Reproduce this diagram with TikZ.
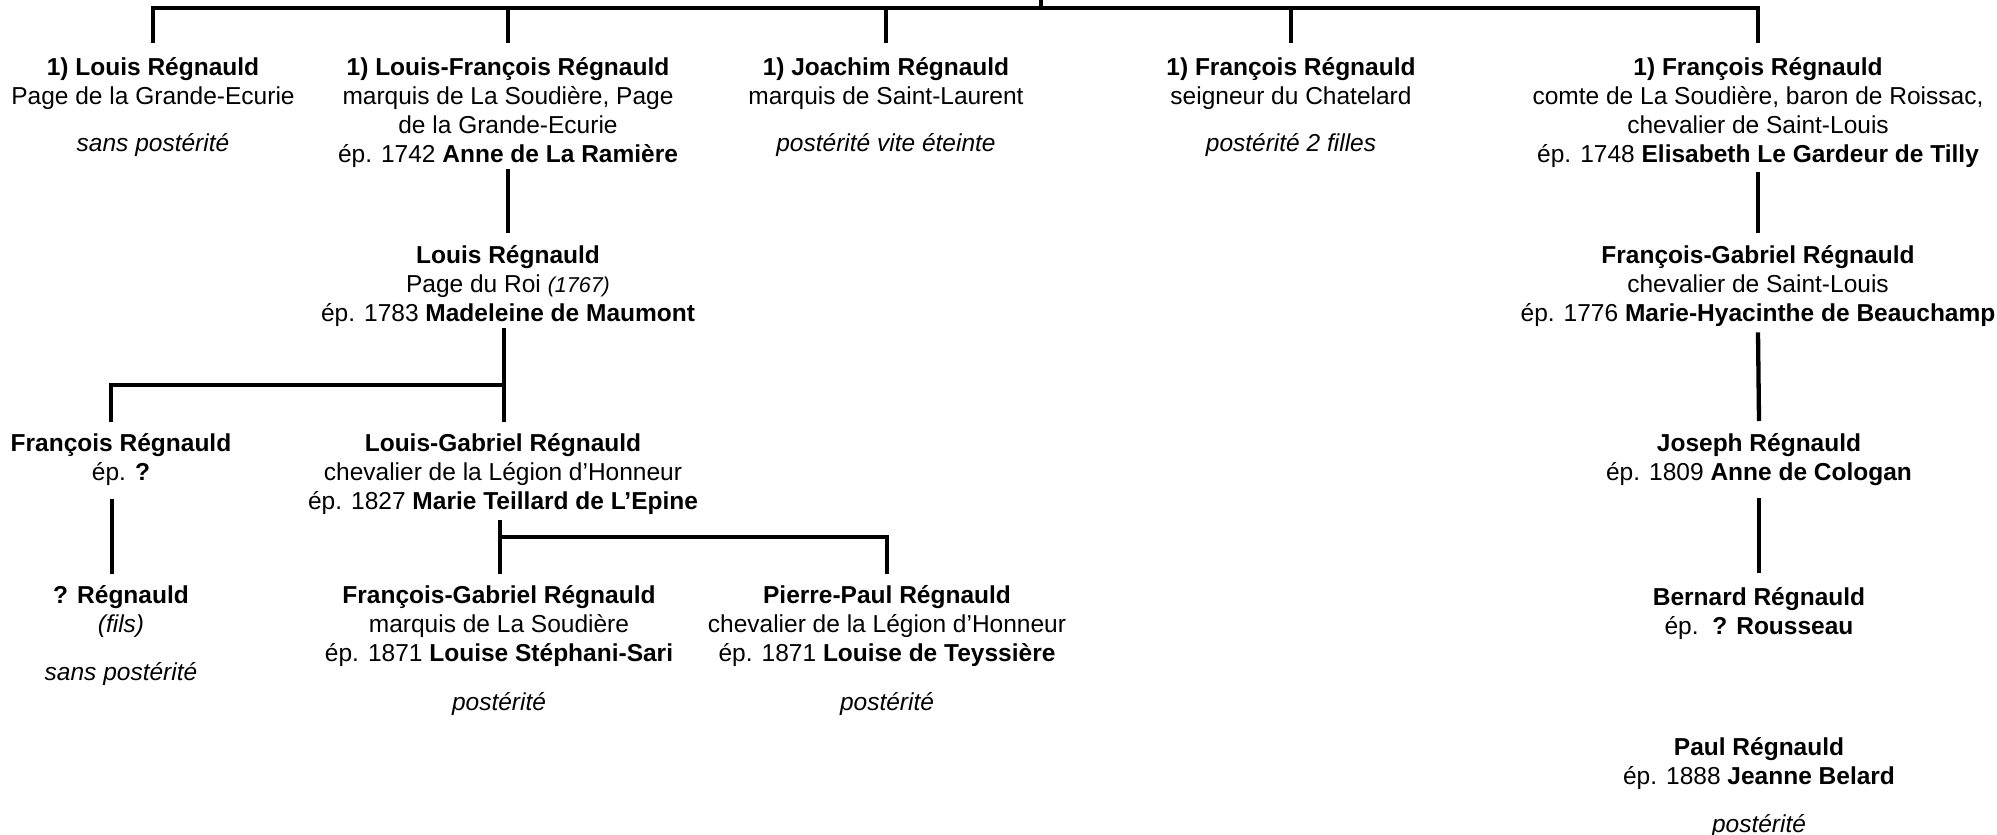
\documentclass[tikz,border=0pt]{standalone}
\usepackage{fontspec}
\setmainfont{Liberation Sans}
\usetikzlibrary{calc}
\newcommand{\tS}{\rule{0pt}{20pt}}
\newcommand{\bS}{\rule[-7pt]{0pt}{7pt}}
\newcommand{\sm}[1]{{\fontsize{21.5}{29}\selectfont\itshape #1}}
\begin{document}
\begin{tikzpicture}[x=1pt,y=-1pt,
  person/.style={anchor=north,inner sep=0pt,align=center,font=\fontsize{24.5}{29}\selectfont},
  conn/.style={line width=3.2pt,black},
  thick conn/.style={line width=4.3pt,black}]
\useasboundingbox[fill=white] (0,0) rectangle (1997,835);

% generation 1
\node[person] (n1) at (153,55) {\tS\textbf{1) Louis Régnauld}\\Page de la Grande-Ecurie\\[18pt]\textit{sans postérité}\bS};
\node[person] (n2) at (508,55) {\tS\textbf{1) Louis-François Régnauld}\\marquis de La Soudière, Page\\de la Grande-Ecurie\\ép. 1742 \textbf{Anne de La Ramière}\bS};
\node[person] (n3) at (886,55) {\tS\textbf{1) Joachim Régnauld}\\marquis de Saint-Laurent\\[18pt]\textit{postérité vite éteinte}\bS};
\node[person] (n4) at (1291,55) {\tS\textbf{1) François Régnauld}\\seigneur du Chatelard\\[18pt]\textit{postérité 2 filles}\bS};
\node[person] (n5) at (1758,55) {\tS\textbf{1) François Régnauld}\\comte de La Soudière, baron de Roissac,\\chevalier de Saint-Louis\\ép. 1748 \textbf{Elisabeth Le Gardeur de Tilly}\bS};

% generation 2
\node[person] (n6) at (508,243) {\tS\textbf{Louis Régnauld}\\Page du Roi \sm{(1767)}\\ép. 1783 \textbf{Madeleine de Maumont}\bS};
\node[person] (n7) at (1758,243) {\tS\textbf{François-Gabriel Régnauld}\\chevalier de Saint-Louis\\ép. 1776 \textbf{Marie-Hyacinthe de Beauchamp}\bS};

% generation 3
\node[person] (n8) at (121,431) {\tS\textbf{François Régnauld}\\ép. \textbf{?}\bS};
\node[person] (n9) at (503,431) {\tS\textbf{Louis-Gabriel Régnauld}\\chevalier de la Légion d’Honneur\\ép. 1827 \textbf{Marie Teillard de L’Epine}\bS};
\node[person] (n10) at (1759,431) {\tS\textbf{Joseph Régnauld}\\ép. 1809 \textbf{Anne de Cologan}\bS};

% generation 4
\node[person] (n11) at (121,583) {\tS\textbf{? Régnauld}\\\textit{(fils)}\\[19pt]\textit{sans postérité}\bS};
\node[person] (n12) at (499,583) {\tS\textbf{François-Gabriel Régnauld}\\marquis de La Soudière\\ép. 1871 \textbf{Louise Stéphani-Sari}\\[20pt]\textit{postérité}\bS};
\node[person] (n13) at (887,583) {\tS\textbf{Pierre-Paul Régnauld}\\chevalier de la Légion d’Honneur\\ép. 1871 \textbf{Louise de Teyssière}\\[20pt]\textit{postérité}\bS};
\node[person] (n14) at (1759,585) {\tS\textbf{Bernard Régnauld}\\ép.\ \ \textbf{? Rousseau}\bS};

% generation 5
\node[person] (n15) at (1759,735) {\tS\textbf{Paul Régnauld}\\ép. 1888 \textbf{Jeanne Belard}\\[19pt]\textit{postérité}\bS};

% top bar
\coordinate (root) at (1041,0);
\coordinate (barL) at (153,8);
\coordinate (barR) at (1758,8);
\draw[conn] (root) -- (root |- barL);
\draw[conn] ([yshift=12pt]n1.north) -- (barL) -- (barR) -- ([yshift=12pt]n5.north);
\foreach \n in {n2,n3,n4} \draw[conn] ([yshift=12pt]\n.north) -- (\n.north |- barL);

% left branch
\draw[conn] (n2.south) -- ([yshift=10pt]n6.north);
\coordinate (jB) at (504,385);
\coordinate (jBL) at (111,385);
\draw[conn] (n6.south -| jB) -- ([yshift=9pt]n9.north -| jB);
\draw[conn] (jB) -- (jBL) -- ([yshift=9pt]n8.north -| jBL);
\coordinate (xF) at (112,0);
\draw[conn] ([yshift=-12pt]n8.south -| xF) -- ([yshift=9pt]n11.north -| xF);
\coordinate (jC) at (500,537);
\coordinate (jCR) at (887,537);
\draw[conn] ([yshift=-4pt]n9.south -| jC) -- ([yshift=9pt]n12.north -| jC);
\draw[conn] (jC) -- (jCR) -- ([yshift=9pt]n13.north);

% right branch
\draw[conn] ([yshift=-3pt]n5.south) -- ([yshift=10pt]n7.north);
\draw[thick conn] ([yshift=-4pt]n7.south) -- ([yshift=10pt]n10.north);
\draw[conn] ([yshift=-11pt]n10.south) -- ([yshift=12pt]n14.north);
\end{tikzpicture}
\end{document}
